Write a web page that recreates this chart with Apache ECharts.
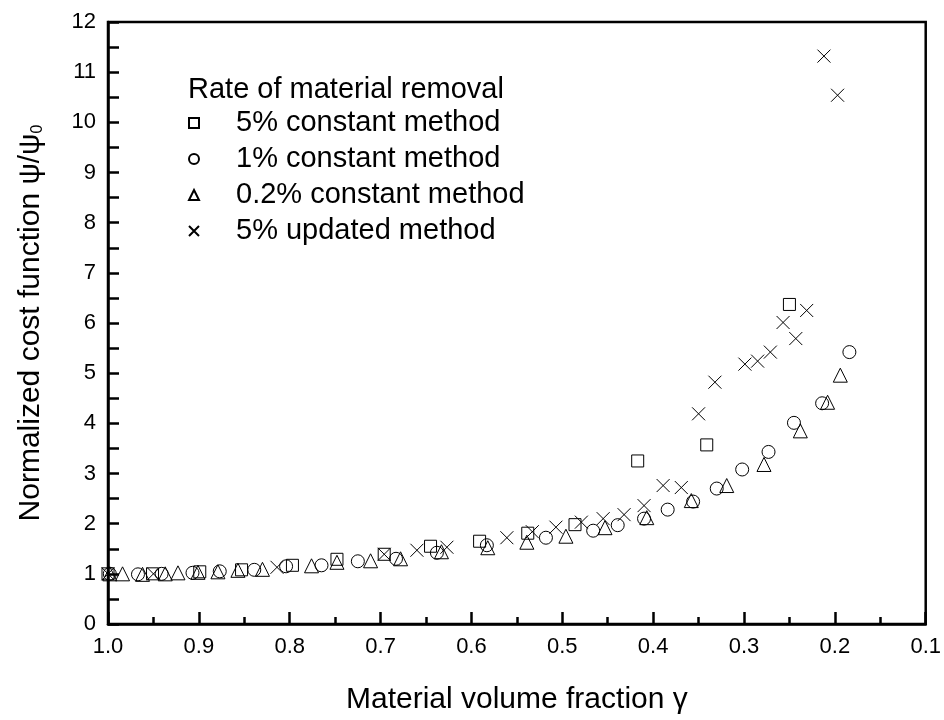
<!DOCTYPE html>
<html>
<head>
<meta charset="utf-8">
<script src="https://cdn.jsdelivr.net/npm/echarts@6/dist/echarts.min.js"></script>
<style>
html,body{margin:0;padding:0;background:#fff;}
#chart{width:944px;height:720px;}
</style>
</head>
<body>
<div id="chart"></div>
<script>
// ---- Data ----
const seriesNames = ['5% constant method', '1% constant method', '0.2% constant method', '5% updated method'];

const sqX = [1.0, 0.951, 0.899, 0.853, 0.797, 0.748, 0.696, 0.645, 0.591, 0.538, 0.486, 0.417, 0.341, 0.250];
const sqY = [1.0, 1.0, 1.04, 1.08, 1.17, 1.29, 1.39, 1.55, 1.65, 1.81, 1.98, 3.25, 3.57, 6.37];

const ciX = [0.998, 0.967, 0.941, 0.907, 0.877, 0.839, 0.804, 0.765, 0.725, 0.683, 0.638, 0.583, 0.518, 0.466, 0.439, 0.410, 0.384, 0.356, 0.330, 0.302, 0.273, 0.245, 0.214, 0.184];
const ciY = [1.0, 0.99, 1.0, 1.02, 1.05, 1.08, 1.15, 1.17, 1.25, 1.30, 1.42, 1.57, 1.72, 1.86, 1.97, 2.10, 2.28, 2.44, 2.70, 3.08, 3.43, 4.01, 4.40, 5.42];

const trX = [0.998, 0.984, 0.962, 0.937, 0.923, 0.901, 0.879, 0.857, 0.830, 0.776, 0.748, 0.711, 0.678, 0.633, 0.582, 0.539, 0.496, 0.453, 0.407, 0.358, 0.319, 0.278, 0.238, 0.208, 0.194];
const trY = [1.0, 1.0, 0.99, 1.0, 1.02, 1.03, 1.04, 1.07, 1.09, 1.16, 1.23, 1.26, 1.30, 1.44, 1.52, 1.63, 1.75, 1.92, 2.12, 2.46, 2.76, 3.18, 3.85, 4.42, 4.96];

const crX = [1.0, 0.950, 0.814, 0.696, 0.660, 0.627, 0.561, 0.533, 0.507, 0.479, 0.455, 0.432, 0.410, 0.389, 0.369, 0.350, 0.332, 0.299, 0.285, 0.271, 0.257, 0.243, 0.231, 0.212, 0.197];
const crY = [1.0, 1.0, 1.13, 1.39, 1.47, 1.53, 1.72, 1.84, 1.93, 2.03, 2.10, 2.18, 2.36, 2.76, 2.72, 4.19, 4.82, 5.18, 5.24, 5.42, 6.01, 5.69, 6.25, 11.32, 10.54];

const xTickMin = 0.1, xTickMax = 1.0, xTickStep = 0.1;
const yTickMin = 0, yTickMax = 12, yTickStep = 1;

// ---- Chart ----
const zip = (xs, ys) => xs.map((x, i) => [x, ys[i]]);
const FONT = '"Liberation Sans", Arial, sans-serif';
const crossPath = 'path://M0,0L10,10M10,0L0,10';

const baseSeries = (name, data, symbol, size) => ({
  name: name,
  type: 'scatter',
  data: data,
  symbol: symbol,
  symbolSize: size,
  itemStyle: { color: 'rgba(0,0,0,0)', borderColor: '#000', borderWidth: 1, opacity: 1 },
  emphasis: { disabled: true },
  silent: true,
  animation: false
});

const chart = echarts.init(document.getElementById('chart'), null, { renderer: 'canvas' });
chart.setOption({
  backgroundColor: '#fff',
  animation: false,
  title: {
    text: 'Rate of material removal',
    left: 188, top: 75, padding: 0,
    textStyle: { fontFamily: FONT, fontSize: 29, fontWeight: 'normal', color: '#000' }
  },
  legend: {
    orient: 'vertical',
    left: 188, top: 107,
    padding: 0,
    itemWidth: 10, itemHeight: 10,
    itemGap: 4,
    selectedMode: false,
    data: seriesNames,
    textStyle: { fontFamily: FONT, fontSize: 29, color: '#000', lineHeight: 32, padding: [0, 0, 0, 32] }
  },
  grid: {
    left: 108, right: 15, top: 22, bottom: 93,
    show: true, borderColor: '#000', borderWidth: 2.5, backgroundColor: 'transparent'
  },
  xAxis: {
    type: 'value',
    inverse: true,
    min: xTickMin, max: xTickMax, interval: xTickStep,
    name: 'Material volume fraction γ',
    nameLocation: 'middle',
    nameGap: 61,
    nameTextStyle: { fontFamily: FONT, fontSize: 30, color: '#000' },
    axisLine: { show: true, onZero: false, lineStyle: { color: '#000', width: 2.5 } },
    axisTick: { show: true, inside: true, length: 12, lineStyle: { color: '#000', width: 2.5 } },
    minorTick: { show: true, splitNumber: 2, length: 7, lineStyle: { color: '#000', width: 2.5 } },
    axisLabel: { fontFamily: FONT, fontSize: 22, color: '#000', margin: 12, formatter: v => v.toFixed(1) },
    splitLine: { show: false }
  },
  yAxis: {
    type: 'value',
    min: yTickMin, max: yTickMax, interval: yTickStep,
    name: 'Normalized cost function ψ/ψ{sub|0}',
    nameLocation: 'middle',
    nameGap: 62,
    nameRotate: 90,
    nameTextStyle: {
      fontFamily: FONT, fontSize: 30, color: '#000',
      rich: { sub: { fontFamily: FONT, fontSize: 16, color: '#000', verticalAlign: 'bottom', padding: [12, 0, 0, 0] } }
    },
    axisLine: { show: true, onZero: false, lineStyle: { color: '#000', width: 2.5 } },
    axisTick: { show: true, inside: true, length: 11, lineStyle: { color: '#000', width: 2.5 } },
    minorTick: { show: true, splitNumber: 2, length: 11, lineStyle: { color: '#000', width: 2.5 } },
    axisLabel: { fontFamily: FONT, fontSize: 22, color: '#000', margin: 12 },
    splitLine: { show: false }
  },
  series: [
    baseSeries(seriesNames[0], zip(sqX, sqY), 'rect', 12),
    baseSeries(seriesNames[1], zip(ciX, ciY), 'circle', 13),
    baseSeries(seriesNames[2], zip(trX, trY), 'triangle', 14),
    baseSeries(seriesNames[3], zip(crX, crY), crossPath, 13)
  ]
});
</script>
</body>
</html>
